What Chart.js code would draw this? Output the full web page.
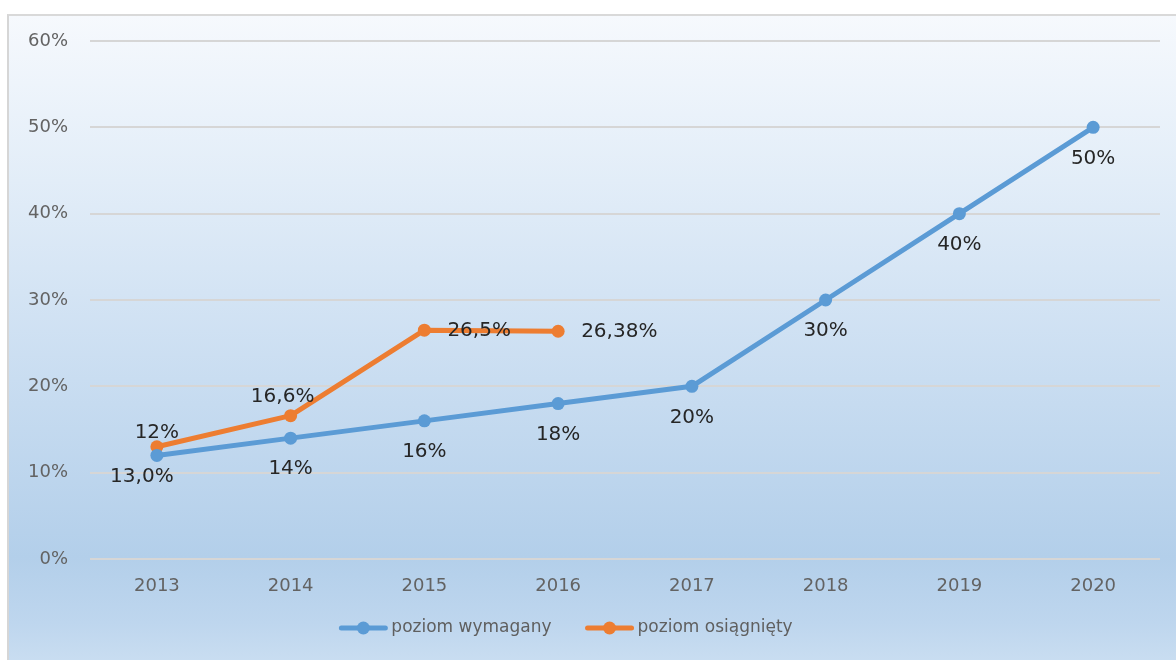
<!DOCTYPE html>
<html>
<head>
<meta charset="utf-8">
<script src="https://cdn.jsdelivr.net/npm/chart.js@4.4.0/dist/chart.umd.min.js"></script>
<style>
  html, body { margin: 0; padding: 0; background: #ffffff; }
  body { width: 1176px; height: 660px; position: relative; overflow: hidden; }
  #frame {
    position: absolute; left: 7px; top: 14px; width: 1180px; height: 660px;
    border-left: 2px solid #d6d6d6; border-top: 2px solid #d9d9d9;
    background: linear-gradient(to bottom, #f6f9fd 0%, #e2edf8 25%, #c9ddf1 55%, #b3cfea 82%, #bed6ee 92%, #cde0f2 100%);
  }
  #wrap { position: absolute; left: 0; top: 0; width: 1176px; height: 660px; }
</style>
</head>
<body>
<div id="frame"></div>
<div id="wrap"><canvas id="c" width="1176" height="660"></canvas></div>
<script>
const categories = ['2013', '2014', '2015', '2016', '2017', '2018', '2019', '2020'];
const requiredValues = [12, 14, 16, 18, 20, 30, 40, 50];
const achievedValues = [13.0, 16.6, 26.5, 26.38, null, null, null, null];
const requiredLabels = ['12%', '14%', '16%', '18%', '20%', '30%', '40%', '50%'];
const achievedLabels = ['13,0%', '16,6%', '26,5%', '26,38%', '', '', '', ''];
const requiredPlacement = ['above', 'below', 'below', 'below', 'below', 'below', 'below', 'below'];
const achievedPlacement = ['belowLeft', 'aboveLeft', 'right', 'right', '', '', '', ''];
const yTicks = [0, 10, 20, 30, 40, 50, 60];

const BLUE = '#5b9bd5';
const ORANGE = '#ed7d31';

const labelPlugin = {
  id: 'pointLabels',
  afterDatasetsDraw(chart) {
    const ctx = chart.ctx;
    ctx.save();
    ctx.font = '20px "DejaVu Sans"';
    ctx.fillStyle = '#262626';
    ctx.textBaseline = 'middle';
    const sets = [[requiredLabels, requiredPlacement], [achievedLabels, achievedPlacement]];
    sets.forEach((s, di) => {
      const meta = chart.getDatasetMeta(di);
      meta.data.forEach((pt, i) => {
        const txt = s[0][i];
        if (!txt) return;
        const place = s[1][i];
        let x = pt.x, y = pt.y;
        ctx.textAlign = 'center';
        if (place === 'below') { y += 31; }
        else if (place === 'above') { y -= 23; }
        else if (place === 'belowLeft') { y += 30; x -= 15; }
        else if (place === 'aboveLeft') { y -= 19; x -= 8; }
        else if (place === 'right') { ctx.textAlign = 'left'; x += 23; y += 1; }
        ctx.fillText(txt, x, y);
      });
    });
    ctx.restore();
  }
};

// Legend drawn below the axis: line-with-marker icon followed by the series name
const legendPlugin = {
  id: 'lineLegend',
  afterDraw(chart) {
    const ctx = chart.ctx;
    ctx.save();
    ctx.font = '17px "DejaVu Sans"';
    ctx.textBaseline = 'middle';
    ctx.textAlign = 'left';
    const iconW = 50, iconGap = 3, itemGap = 33;
    const items = chart.data.datasets.map(d => ({ text: d.label, color: d.borderColor, w: ctx.measureText(d.label).width }));
    let total = 0;
    items.forEach((it, i) => { total += iconW + iconGap + it.w + (i ? itemGap : 0); });
    let x = 565.5 - total / 2;
    const y = 628;
    items.forEach((it, i) => {
      if (i) x += itemGap;
      ctx.strokeStyle = it.color; ctx.lineWidth = 5; ctx.lineCap = 'round';
      ctx.beginPath(); ctx.moveTo(x + 3, y); ctx.lineTo(x + iconW - 3, y); ctx.stroke();
      ctx.fillStyle = it.color;
      ctx.beginPath(); ctx.arc(x + iconW / 2, y, 6.5, 0, Math.PI * 2); ctx.fill();
      x += iconW + iconGap;
      ctx.fillStyle = '#5f5f5f';
      ctx.fillText(it.text, x, y);
      x += it.w;
    });
    ctx.restore();
  }
};

new Chart(document.getElementById('c'), {
  type: 'line',
  data: {
    labels: categories,
    datasets: [
      {
        label: 'poziom wymagany',
        data: requiredValues,
        borderColor: BLUE, backgroundColor: BLUE,
        borderWidth: 5, pointRadius: 6.5, pointHoverRadius: 6.5,
        pointBackgroundColor: BLUE, pointBorderWidth: 0,
        pointStyle: 'circle', tension: 0,
        borderCapStyle: 'round', borderJoinStyle: 'round'
      },
      {
        label: 'poziom osiągnięty',
        data: achievedValues,
        borderColor: ORANGE, backgroundColor: ORANGE,
        borderWidth: 5, pointRadius: 6.5, pointHoverRadius: 6.5,
        pointBackgroundColor: ORANGE, pointBorderWidth: 0,
        pointStyle: 'circle', tension: 0,
        borderCapStyle: 'round', borderJoinStyle: 'round'
      }
    ]
  },
  options: {
    responsive: false,
    animation: false,
    devicePixelRatio: 1,
    layout: { padding: { left: 0, right: 16, top: 41, bottom: 56 } },
    plugins: {
      tooltip: { enabled: false },
      legend: { display: false }
    },
    scales: {
      x: {
        offset: true,
        grid: { display: false, drawTicks: false },
        border: { display: false },
        ticks: { color: '#636363', font: { family: '"DejaVu Sans"', size: 18 }, padding: 17 },
        afterFit(scale) { scale.height = 45; }
      },
      y: {
        min: 0, max: 60,
        afterBuildTicks(scale) { scale.ticks = yTicks.map(v => ({ value: v })); },
        grid: { color: '#d6d6d6', lineWidth: 2, drawTicks: false },
        border: { display: false },
        ticks: {
          color: '#636363',
          font: { family: '"DejaVu Sans"', size: 18 },
          padding: 22,
          callback: v => v + '%'
        },
        afterFit(scale) { scale.width = 90; }
      }
    }
  },
  plugins: [labelPlugin, legendPlugin]
});
</script>
</body>
</html>
